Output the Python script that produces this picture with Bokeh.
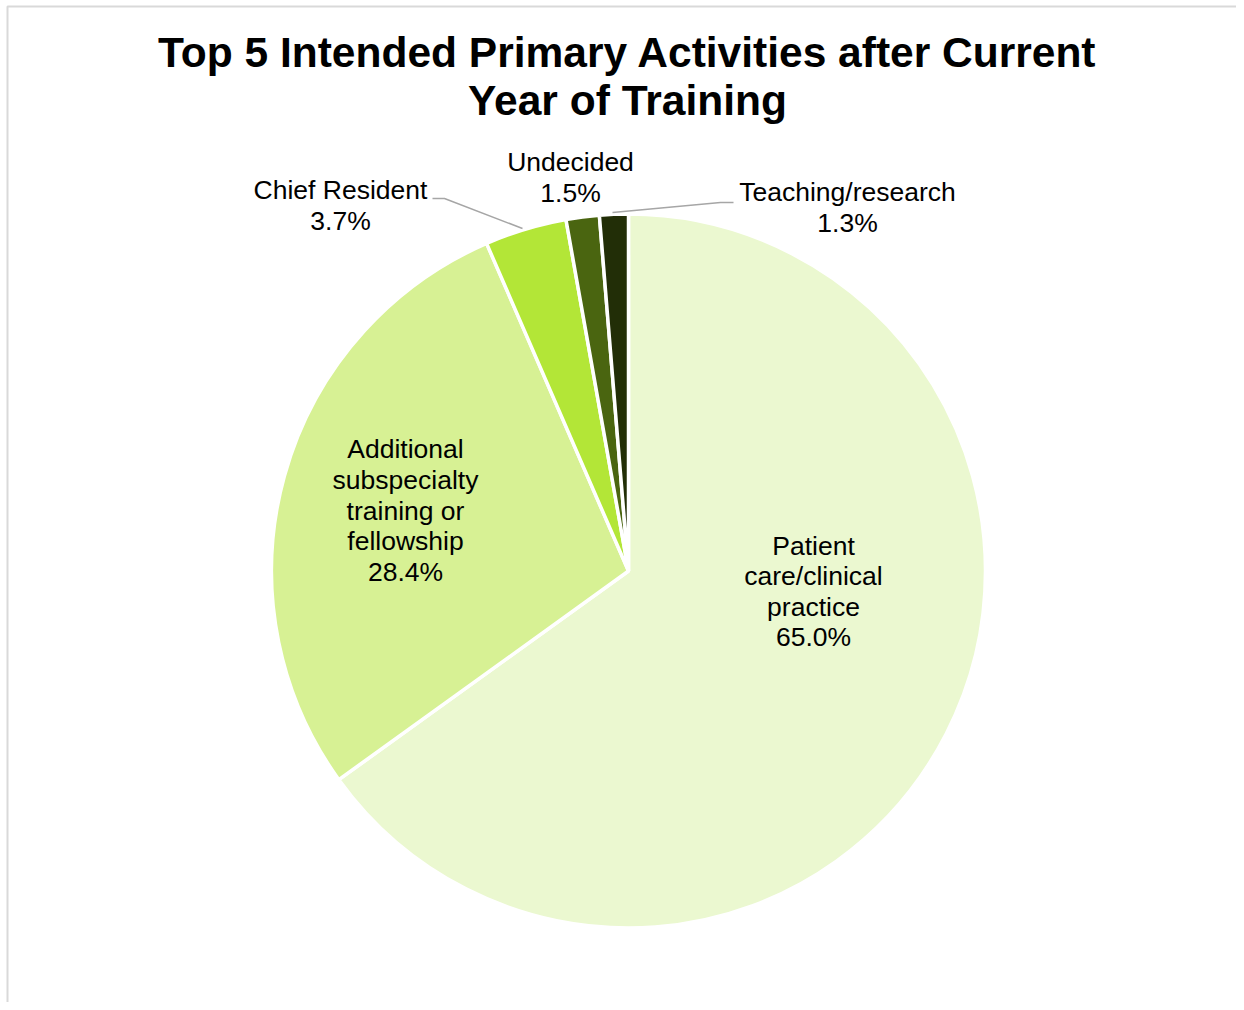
import math
from bokeh.plotting import figure
from bokeh.models import Range1d
from bokeh.core.properties import value
from bokeh.embed import file_html
from bokeh.resources import INLINE

# ---- data ----
categories = ["Patient care/clinical practice",
              "Additional subspecialty training or fellowship",
              "Chief Resident", "Undecided", "Teaching/research"]
percents = [65.0, 28.4, 3.7, 1.5, 1.3]
label_lines = [["Patient", "care/clinical", "practice"],
               ["Additional", "subspecialty", "training or", "fellowship"],
               ["Chief Resident"], ["Undecided"], ["Teaching/research"]]
colors = ["#EBF8D0", "#D7F194", "#B3E637", "#4A6510", "#222E07"]
title_lines = ["Top 5 Intended Primary Activities after Current", "Year of Training"]

# ---- layout (image pixel coords) ----
W, H = 1236, 1002
def X(x): return x
def Y(y): return H - y

cx, cy, R = 628, 570.5, 357
label_centers = [(813, 591), (405, 510), (340, 205), (570, 177), (847, 207)]
line_h = 30.6
leaders = {2: [(432, 198), (444, 198), (522, 228)],
           4: [(612, 212), (720, 202), (733, 202)]}

p = figure(width=W, height=H, output_backend="svg", toolbar_location=None,
           x_range=Range1d(0, W), y_range=Range1d(0, H),
           x_axis_location=None, y_axis_location=None, min_border=0,
           outline_line_color=None, background_fill_color="white")
p.grid.visible = False

total = sum(percents)
cum = 0.0
starts, ends = [], []
for v in percents:
    starts.append(math.pi / 2 - 2 * math.pi * cum / total)
    cum += v
    ends.append(math.pi / 2 - 2 * math.pi * cum / total)

p.wedge(x=X(cx), y=Y(cy), radius=R, start_angle=starts, end_angle=ends,
        direction="clock", fill_color=colors, line_color="white", line_width=3.5)

# leader lines
for i, pts in leaders.items():
    p.line([X(a) for a, b in pts], [Y(b) for a, b in pts], line_color="#A6A6A6", line_width=1.5)

# data labels
for i, (lines, pct) in enumerate(zip(label_lines, percents)):
    all_lines = lines + [f"{pct:.1f}%"]
    lx, ly = label_centers[i]
    n = len(all_lines)
    ys = [Y(ly + (k - (n - 1) / 2) * line_h) for k in range(n)]
    p.text(x=[X(lx)] * n, y=ys, text=all_lines, text_align="center", text_baseline="middle",
           text_font=value("Liberation Sans"), text_font_size="26.5px", text_color="#000000")

# title
p.text(x=[X(627)] * 2, y=[Y(52), Y(100)], text=title_lines, text_align="center",
       text_baseline="middle", text_font=value("Liberation Sans"), text_font_size="42.5px",
       text_font_style="bold", text_color="#000000")

# chart border (left & top visible)
p.line([X(7), X(7), W], [0, Y(6), Y(6)], line_color="#D9D9D9", line_width=2)

open("out.html", "w").write(file_html(p, INLINE))
